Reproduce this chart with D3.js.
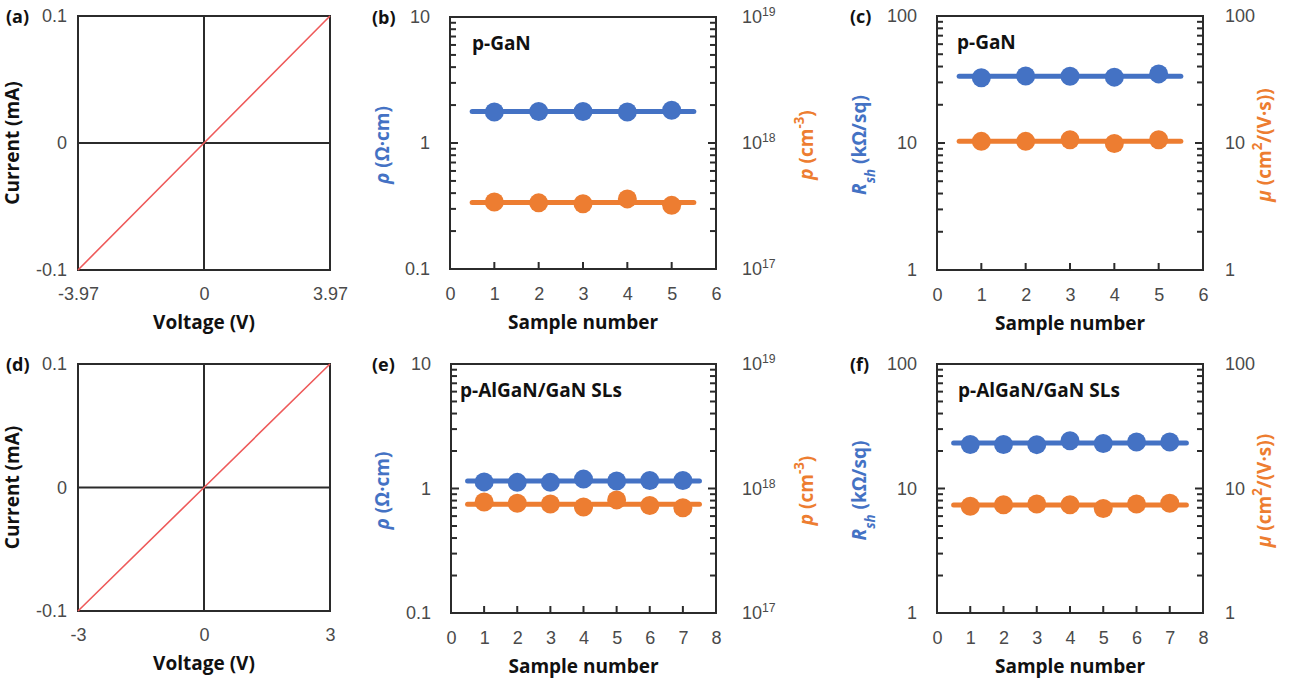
<!DOCTYPE html>
<html>
<head>
<meta charset="utf-8">
<script src="https://cdn.jsdelivr.net/npm/d3@7"></script>
<style>
  body { margin: 0; background: #fff; }
  svg { font-family: "Open Sans", "Noto Sans", sans-serif; }
  .tick text { fill: #4a4a4a; font-size: 18px; font-weight: 300; }
  .title { font-weight: 700; fill: #111; }
</style>
</head>
<body>
<svg id="chart" width="1289" height="678"></svg>
<script>
// ---------- data ----------
// I-V sweeps
const voltsA = [-3.97, 0, 3.97]
const currentA = [-0.1, 0, 0.1]
const voltsD = [-3, 0, 3]
const currentD = [-0.1, 0, 0.1]

// p-GaN
const samplesGaN = [1, 2, 3, 4, 5]
const rhoGaN = [1.76, 1.78, 1.78, 1.76, 1.82]          // Ω·cm
const pGaN = [3.4e17, 3.35e17, 3.3e17, 3.6e17, 3.2e17]  // cm^-3
const rshGaN = [32.6, 33.7, 33.5, 33.0, 35.0]           // kΩ/sq
const muGaN = [10.3, 10.3, 10.6, 9.9, 10.6]             // cm2/(V·s)

// p-AlGaN/GaN SLs
const samplesSL = [1, 2, 3, 4, 5, 6, 7]
const rhoSL = [1.13, 1.12, 1.12, 1.19, 1.15, 1.16, 1.16]
const pSL = [7.8e17, 7.6e17, 7.5e17, 7.1e17, 8.1e17, 7.3e17, 7.0e17]
const rshSL = [22.6, 22.6, 22.5, 24.2, 23.0, 23.6, 23.6]
const muSL = [7.2, 7.4, 7.5, 7.4, 6.9, 7.5, 7.6]

const blue = "#4472C4"
const orange = "#ED7D31"
const frameColor = "#2b2b2b"

const svg = d3.select("#chart")

// write a text made of styled pieces (italic, sub, sup)
function richText(sel, parts) {
    parts.forEach(p => {
        const t = sel.append("tspan").text(p.t)
        if (p.i) t.attr("font-style", "italic")
        if (p.sup) t.attr("baseline-shift", "super").attr("font-size", "70%")
        if (p.sub) t.attr("baseline-shift", "sub").attr("font-size", "70%")
    })
}

function rotatedLabel(x, y, parts, color) {
    const t = svg.append("text")
        .attr("class", "title")
        .attr("transform", `translate(${x},${y}) rotate(-90)`)
        .attr("text-anchor", "middle")
        .attr("font-size", 19)
        .style("fill", color)
    richText(t, parts)
}

//----------------------------------------------------------------------------
// I-V panel
function ivPanel(o) {
    const x = d3.scaleLinear().domain([o.volts[0], o.volts[o.volts.length - 1]]).range([o.left, o.left + o.w])
    const y = d3.scaleLinear().domain([-0.1, 0.1]).range([o.top + o.h, o.top])

    svg.append("g").attr("transform", `translate(0,${o.top + o.h})`)
        .call(d3.axisBottom(x).tickValues(o.volts).tickSize(0).tickPadding(17).tickFormat(d => d))
        .call(g => g.select(".domain").remove())
    svg.append("g").attr("transform", `translate(${o.left},0)`)
        .call(d3.axisLeft(y).tickValues([-0.1, 0, 0.1]).tickSize(0).tickPadding(11).tickFormat(d => d))
        .call(g => g.select(".domain").remove())

    // zero cross
    svg.append("line").attr("x1", x(0)).attr("x2", x(0)).attr("y1", o.top).attr("y2", o.top + o.h)
        .attr("stroke", frameColor).attr("stroke-width", 2)
    svg.append("line").attr("x1", o.left).attr("x2", o.left + o.w).attr("y1", y(0)).attr("y2", y(0))
        .attr("stroke", frameColor).attr("stroke-width", 2)
    svg.append("rect").attr("x", o.left).attr("y", o.top).attr("width", o.w).attr("height", o.h)
        .attr("fill", "none").attr("stroke", frameColor).attr("stroke-width", 2)

    const line = d3.line().x((d, i) => x(o.volts[i])).y(d => y(d))
    svg.append("path").datum(o.current).attr("d", line)
        .attr("fill", "none").attr("stroke", "#EE5A5A").attr("stroke-width", 1.6)

    svg.append("text").attr("class", "title").attr("x", o.left + o.w / 2).attr("y", o.top + o.h + 59)
        .attr("text-anchor", "middle").attr("font-size", 19).text("Voltage (V)")
    rotatedLabel(o.left - 59, o.top + o.h / 2, [{ t: "Current (mA)" }], "#111")
    svg.append("text").attr("class", "title").attr("x", 6).attr("y", o.top + 7)
        .attr("font-size", 18).text(o.label)
}

//----------------------------------------------------------------------------
// Hall panel with two log axes
function hallPanel(o) {
    const x = d3.scaleLinear().domain([0, o.xMax]).range([o.left, o.left + o.w])
    const yL = d3.scaleLog().domain(o.leftDomain).range([o.top + o.h, o.top])
    const yR = d3.scaleLog().domain(o.rightDomain).range([o.top + o.h, o.top])
    const isPow = d => Math.abs(Math.log10(d) - Math.round(Math.log10(d))) < 1e-6
    const right = o.left + o.w
    const bottom = o.top + o.h

    // tick labels
    svg.append("g").attr("transform", `translate(${o.left},0)`)
        .call(d3.axisLeft(yL).tickValues(yL.ticks().filter(isPow)).tickSize(0).tickPadding(20)
            .tickFormat(d3.format("~g")))
        .call(g => g.select(".domain").remove())

    const gr = svg.append("g").attr("transform", `translate(${right},0)`)
        .call(d3.axisRight(yR).tickValues(yR.ticks().filter(isPow)).tickSize(0).tickPadding(o.rightPow ? 26 : 22)
            .tickFormat(d3.format("~g")))
        .call(g => g.select(".domain").remove())
    if (o.rightPow) {
        gr.selectAll(".tick text").each(function (d) {
            const t = d3.select(this).text(null)
            t.append("tspan").text("10")
            t.append("tspan").text(Math.round(Math.log10(d)))
                .attr("baseline-shift", "super").attr("font-size", "68%")
        })
    }

    svg.append("g").attr("transform", `translate(0,${bottom})`)
        .call(d3.axisBottom(x).ticks(o.xMax).tickSize(0).tickPadding(18))
        .call(g => g.select(".domain").remove())

    svg.append("rect").attr("x", o.left).attr("y", o.top).attr("width", o.w).attr("height", o.h)
        .attr("fill", "none").attr("stroke", frameColor).attr("stroke-width", 2)

    // inward tick marks (log minors on both sides, integers at bottom)
    const segs = [
        ...yL.ticks().map(d => ({ x1: o.left, x2: o.left + (isPow(d) ? 8 : 6), y1: yL(d), y2: yL(d) })),
        ...yR.ticks().map(d => ({ x1: right, x2: right - (isPow(d) ? 8 : 6), y1: yR(d), y2: yR(d) })),
        ...x.ticks(o.xMax).map(d => ({ x1: x(d), x2: x(d), y1: bottom, y2: bottom - 7 }))
    ]
    svg.append("g").selectAll("line")
        .data(segs)
        .join("line")
        .attr("x1", d => d.x1).attr("x2", d => d.x2)
        .attr("y1", d => d.y1).attr("y2", d => d.y2)
        .attr("stroke", frameColor).attr("stroke-width", 2)

    // series: mean line + points
    const series = [
        { v: o.leftValues, y: yL, c: blue },
        { v: o.rightValues, y: yR, c: orange }
    ]
    series.forEach(s => {
        const m = Math.exp(d3.mean(s.v, d => Math.log(d)))
        svg.append("line")
            .attr("x1", x(0.5)).attr("x2", x(o.xMax - 0.5))
            .attr("y1", s.y(m)).attr("y2", s.y(m))
            .attr("stroke", s.c).attr("stroke-width", 5).attr("stroke-linecap", "round")
        svg.append("g").selectAll("circle")
            .data(s.v)
            .join("circle")
            .attr("cx", (d, i) => x(o.samples[i]))
            .attr("cy", d => s.y(d))
            .attr("r", 9.5)
            .attr("fill", s.c)
    })

    svg.append("text").attr("class", "title").attr("x", o.titleX).attr("y", o.top + 33)
        .attr("font-size", 19).text(o.title)
    svg.append("text").attr("class", "title").attr("x", o.left + o.w / 2).attr("y", bottom + 60)
        .attr("text-anchor", "middle").attr("font-size", 19).text("Sample number")
    svg.append("text").attr("class", "title").attr("x", o.labelX).attr("y", o.top + 7)
        .attr("font-size", 18).text(o.label)

    rotatedLabel(o.leftLabelX, o.top + o.h / 2 + 2, o.leftTitle, blue)
    rotatedLabel(o.rightLabelX, o.top + o.h / 2 + 2, o.rightTitle, orange)
}

//----------------------------------------------------------------------------
const rhoTitle = [{ t: "ρ", i: true }, { t: " (Ω·cm)" }]
const pTitle = [{ t: "p", i: true }, { t: " (cm" }, { t: "-3", sup: true }, { t: ")" }]
const rshTitle = [{ t: "R", i: true }, { t: "sh", i: true, sub: true }, { t: " (kΩ/sq)" }]
const muTitle = [{ t: "μ", i: true }, { t: " (cm" }, { t: "2", sup: true }, { t: "/(V·s))" }]

ivPanel({ label: "(a)", left: 78, top: 16, w: 252, h: 254, volts: voltsA, current: currentA })
ivPanel({ label: "(d)", left: 78, top: 364, w: 252, h: 247, volts: voltsD, current: currentD })

hallPanel({
    label: "(b)", labelX: 372, title: "p-GaN", titleX: 472,
    left: 450, top: 17, w: 266, h: 252, xMax: 6, samples: samplesGaN,
    leftDomain: [0.1, 10], rightDomain: [1e17, 1e19], rightPow: true,
    leftValues: rhoGaN, rightValues: pGaN,
    leftTitle: rhoTitle, rightTitle: pTitle, leftLabelX: 389, rightLabelX: 813
})
hallPanel({
    label: "(c)", labelX: 850, title: "p-GaN", titleX: 957,
    left: 937, top: 16, w: 266, h: 254, xMax: 6, samples: samplesGaN,
    leftDomain: [1, 100], rightDomain: [1, 100], rightPow: false,
    leftValues: rshGaN, rightValues: muGaN,
    leftTitle: rshTitle, rightTitle: muTitle, leftLabelX: 866, rightLabelX: 1271
})
hallPanel({
    label: "(e)", labelX: 372, title: "p-AlGaN/GaN SLs", titleX: 460,
    left: 451, top: 364, w: 265, h: 249, xMax: 8, samples: samplesSL,
    leftDomain: [0.1, 10], rightDomain: [1e17, 1e19], rightPow: true,
    leftValues: rhoSL, rightValues: pSL,
    leftTitle: rhoTitle, rightTitle: pTitle, leftLabelX: 389, rightLabelX: 813
})
hallPanel({
    label: "(f)", labelX: 850, title: "p-AlGaN/GaN SLs", titleX: 958,
    left: 937, top: 364, w: 266, h: 249, xMax: 8, samples: samplesSL,
    leftDomain: [1, 100], rightDomain: [1, 100], rightPow: false,
    leftValues: rshSL, rightValues: muSL,
    leftTitle: rshTitle, rightTitle: muTitle, leftLabelX: 866, rightLabelX: 1271
})
</script>
</body>
</html>
